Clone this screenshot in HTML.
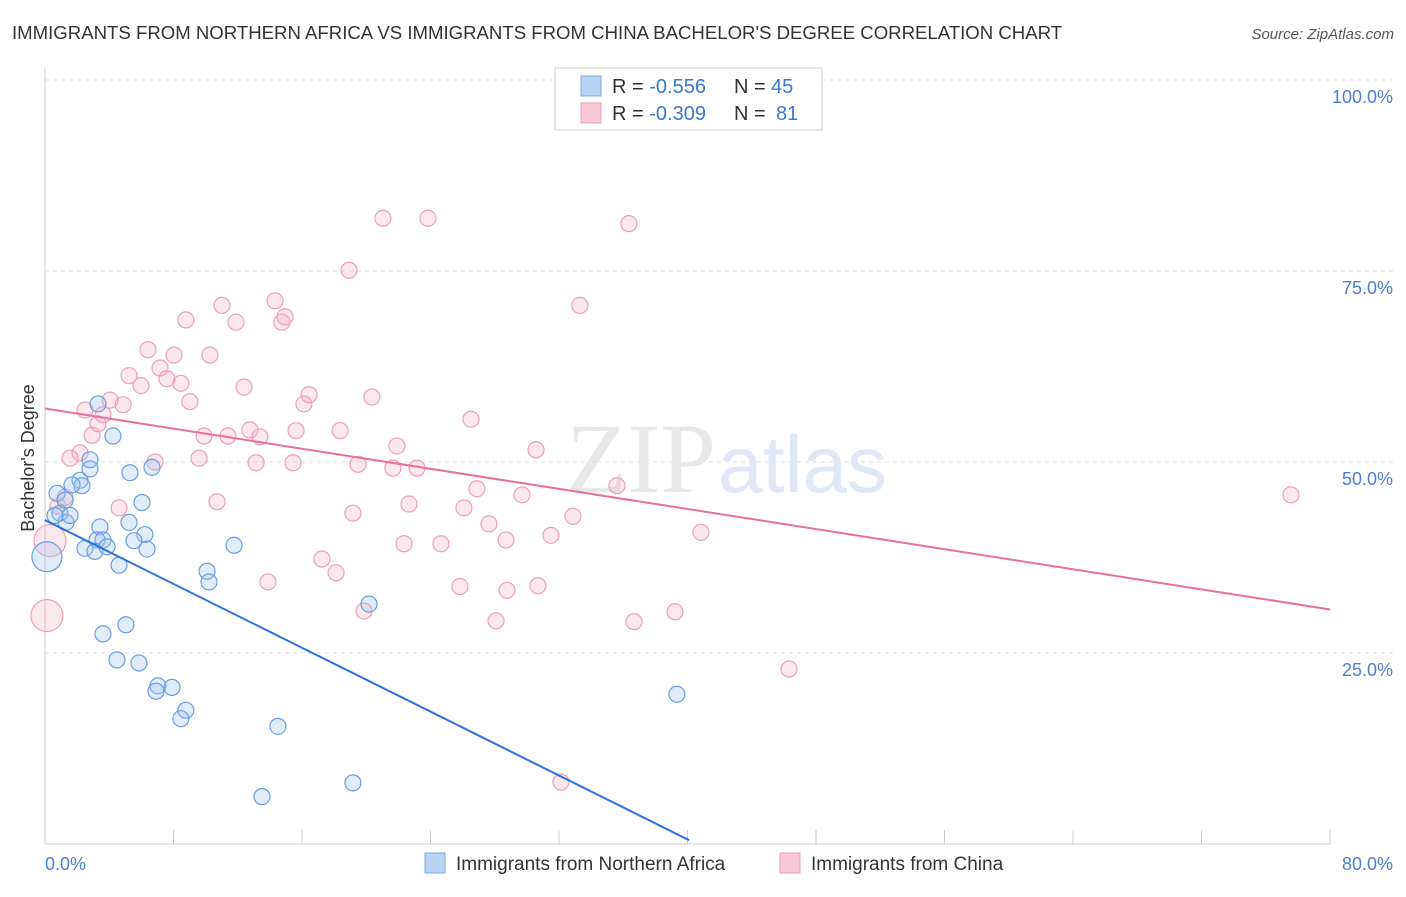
<!DOCTYPE html>
<html><head><meta charset="utf-8"><style>
body{margin:0;background:#fff;font-family:"Liberation Sans",sans-serif}
</style></head><body>
<svg width="1406" height="892" xmlns="http://www.w3.org/2000/svg" font-family="Liberation Sans, sans-serif">
<text x="12" y="39" font-size="18.6" fill="#333">IMMIGRANTS FROM NORTHERN AFRICA VS IMMIGRANTS FROM CHINA BACHELOR'S DEGREE CORRELATION CHART</text>
<text x="1394" y="39" font-size="15" fill="#555" text-anchor="end" font-style="italic">Source: ZipAtlas.com</text>
<g id="grid"></g>
<text x="716" y="492" font-size="100" fill="#e8e8e8" text-anchor="end" font-family="Liberation Serif, serif">ZIP</text>
<text x="718" y="492" font-size="80" fill="#dfe8f5">atlas</text>
<text x="34" y="458" font-size="18" fill="#333" text-anchor="middle" transform="rotate(-90 34 458)">Bachelor's Degree</text>
<g id="pts"></g>
<g id="lines"></g>
<g>
<rect x="555" y="68" width="267" height="62" fill="#fff" stroke="#ccc"/>
<rect x="581" y="76" width="20" height="20" fill="#b8d4f4" stroke="#7aa8e0"/>
<rect x="581" y="103" width="20" height="20" fill="#f8c8d6" stroke="#ec9cb4"/>
<text x="612" y="93" font-size="20" fill="#333">R = <tspan fill="#3a78d0">-0.556</tspan><tspan x="734">N = </tspan><tspan x="771" fill="#3a78d0">45</tspan></text>
<text x="612" y="120" font-size="20" fill="#333">R = <tspan fill="#3a78d0">-0.309</tspan><tspan x="734">N = </tspan><tspan x="776" fill="#3a78d0">81</tspan></text>
</g>
<g>
<rect x="425" y="853" width="20" height="20" fill="#b8d4f4" stroke="#7aa8e0"/>
<text x="456" y="870" font-size="19" fill="#333">Immigrants from Northern Africa</text>
<rect x="780" y="853" width="20" height="20" fill="#f8c8d6" stroke="#ec9cb4"/>
<text x="811" y="870" font-size="19" fill="#333">Immigrants from China</text>
</g>
<text x="45" y="870" font-size="18" fill="#4a80d0">0.0%</text>
<text x="1393" y="870" font-size="18" fill="#4a80d0" text-anchor="end">80.0%</text>
</svg>
<script>
const yTicks=[25,50,75,100];
const xTicks=[0,8,16,24,32,40,48,56,64,72,80];
const blueX=[0.75,0.93,1.31,1.56,0.62,1.25,0.12,2.18,2.30,2.80,2.80,3.42,3.24,3.61,2.49,3.11,3.86,3.30,4.23,5.29,6.66,5.23,6.22,6.04,5.54,6.35,4.61,10.09,10.21,11.77,3.61,5.04,4.48,5.85,7.03,6.91,7.91,8.77,8.46,14.50,13.51,19.17,20.17,39.34,1.68];
const blueY=[45.9,43.3,42.1,43.0,43.0,45.0,37.6,47.6,46.9,49.1,50.3,41.5,39.8,39.8,38.7,38.3,38.9,57.6,53.4,48.6,49.3,42.1,40.5,44.7,39.7,38.6,36.5,35.7,34.3,39.1,27.5,28.7,24.1,23.7,20.7,20.0,20.5,17.5,16.4,15.4,6.2,8.0,31.4,19.6,47.0];
const pinkX=[0.12,0.31,0.81,1.25,1.56,2.18,2.49,2.93,3.30,3.61,4.05,4.61,4.86,5.23,5.98,6.41,6.85,7.16,7.59,8.03,8.46,8.77,9.02,9.59,9.90,10.27,10.71,11.02,11.39,11.89,12.39,12.76,13.14,13.38,13.88,14.32,14.75,14.94,15.44,15.63,16.12,16.44,17.24,18.12,18.37,18.93,19.17,19.48,19.86,20.35,21.04,21.66,21.91,22.35,22.66,23.16,23.84,24.65,25.83,26.08,26.52,26.89,27.64,28.08,28.70,28.76,29.70,30.57,30.69,31.50,32.87,32.12,33.30,35.61,36.35,36.67,39.22,40.84,46.32,77.57];
const pinkY=[29.9,39.7,44.2,45.4,50.5,51.2,56.8,53.5,55.0,56.2,58.1,44.0,57.5,61.3,60.0,64.7,50.0,62.3,60.9,64.0,60.3,68.6,57.9,50.5,53.4,64.0,44.8,70.5,53.4,68.3,59.8,54.2,49.9,53.3,34.3,71.1,68.3,69.0,49.9,54.1,57.6,58.8,37.3,35.5,54.1,75.1,43.3,49.7,30.5,58.5,81.9,49.2,52.1,39.3,44.5,49.2,81.9,39.3,33.7,44.0,55.6,46.5,41.9,29.2,39.8,33.2,45.7,51.6,33.8,40.4,42.9,8.1,70.5,46.9,81.2,29.1,30.4,40.8,22.9,45.7];
const blueLine=[0,42.4,40.1,0.5];
const pinkLine=[0,57.0,80,30.7];
const X=v=>45+v/80*1285, Y=v=>844-v/100*764;
const NS='http://www.w3.org/2000/svg';
function mk(t,a,p){const e=document.createElementNS(NS,t);for(const k in a)e.setAttribute(k,a[k]);p.appendChild(e);return e;}
const g=document.getElementById('grid');
mk('line',{x1:45,y1:68,x2:45,y2:844,stroke:'#ccc'},g);
mk('line',{x1:45,y1:844,x2:1330,y2:844,stroke:'#ccc'},g);
yTicks.forEach(t=>{const l=mk('line',{x1:45,y1:Y(t),x2:1393,y2:Y(t),stroke:'#ddd','stroke-dasharray':'4,4'},g);


const tx=mk('text',{x:1393,y:Y(t)+23,'font-size':18,fill:'#4a80d0','text-anchor':'end'},g);tx.textContent=t.toFixed(1)+'%';

});
xTicks.forEach(t=>{const l=mk('line',{x1:X(t),y1:830,x2:X(t),y2:844,stroke:'#ccc'},g);

});
const p=document.getElementById('pts');
pinkX.forEach((v,i)=>{const c=mk('circle',{cx:X(v),cy:Y(pinkY[i]),r:(i<2?16:8),fill:'rgba(244,168,192,0.28)',stroke:'#eca0b8','stroke-width':1.2},p);

});
blueX.forEach((v,i)=>{const c=mk('circle',{cx:X(v),cy:Y(blueY[i]),r:(i==6?15:8),fill:'rgba(160,196,240,0.32)',stroke:'#6a9ee0','stroke-width':1.2},p);

});
const L=document.getElementById('lines');
let a=mk('line',{x1:X(blueLine[0]),y1:Y(blueLine[1]),x2:X(blueLine[2]),y2:Y(blueLine[3]),stroke:'#2a74d8','stroke-width':2},L);


let b=mk('line',{x1:X(pinkLine[0]),y1:Y(pinkLine[1]),x2:X(pinkLine[2]),y2:Y(pinkLine[3]),stroke:'#e8709a','stroke-width':2},L);


</script>
</body></html>
